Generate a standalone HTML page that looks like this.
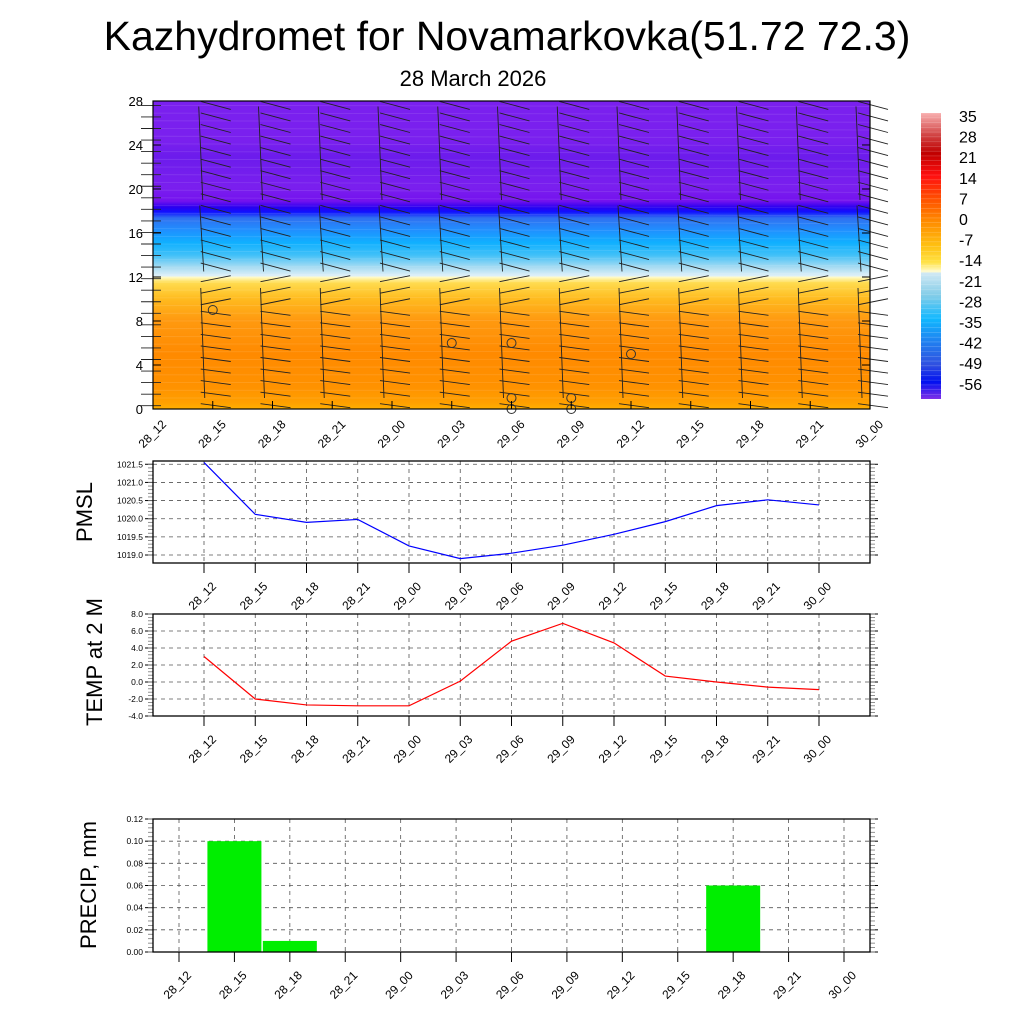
<!DOCTYPE html>
<html><head><meta charset="utf-8">
<style>
html,body{margin:0;padding:0;background:#fff;}
svg{display:block;font-family:"Liberation Sans",sans-serif;}
</style></head>
<body>
<svg id="chart" width="1024" height="1024" viewBox="0 0 1024 1024" xmlns="http://www.w3.org/2000/svg">
<defs>
<linearGradient id="tgrad" x1="0" y1="1" x2="0" y2="0">
<stop offset="0" stop-color="#ffb000"/>
<stop offset="0.02" stop-color="#ffa000"/>
<stop offset="0.07" stop-color="#ff9200"/>
<stop offset="0.18" stop-color="#ff8a00"/>
<stop offset="0.29" stop-color="#ff9a10"/>
<stop offset="0.36" stop-color="#ffbc20"/>
<stop offset="0.41" stop-color="#ffdc50"/>
<stop offset="0.428" stop-color="#fffbc8"/>
<stop offset="0.432" stop-color="#dff0f8"/>
<stop offset="0.46" stop-color="#a8dcf2"/>
<stop offset="0.5" stop-color="#40c0f8"/>
<stop offset="0.54" stop-color="#10b0ff"/>
<stop offset="0.58" stop-color="#2090ff"/>
<stop offset="0.62" stop-color="#3070f0"/>
<stop offset="0.64" stop-color="#1010ff"/>
<stop offset="0.655" stop-color="#2a00f0"/>
<stop offset="0.675" stop-color="#7412ee"/>
<stop offset="0.72" stop-color="#7a1fee"/>
<stop offset="0.82" stop-color="#6c1cec"/>
<stop offset="0.87" stop-color="#7a20ee"/>
<stop offset="1" stop-color="#7a20ee"/>
</linearGradient>
<linearGradient id="cbgrad" x1="0" y1="0" x2="0" y2="1">
<stop offset="0" stop-color="#f8b0b0"/>
<stop offset="0.08" stop-color="#d04040"/>
<stop offset="0.14" stop-color="#c00000"/>
<stop offset="0.22" stop-color="#ff1010"/>
<stop offset="0.3" stop-color="#ff5000"/>
<stop offset="0.38" stop-color="#ff8c00"/>
<stop offset="0.46" stop-color="#ffbe10"/>
<stop offset="0.52" stop-color="#ffe040"/>
<stop offset="0.555" stop-color="#fffbd0"/>
<stop offset="0.56" stop-color="#d0e8f4"/>
<stop offset="0.64" stop-color="#80cce8"/>
<stop offset="0.72" stop-color="#10b8ff"/>
<stop offset="0.8" stop-color="#2080f0"/>
<stop offset="0.88" stop-color="#3050e0"/>
<stop offset="0.94" stop-color="#0010f0"/>
<stop offset="1" stop-color="#8030e8"/>
</linearGradient>
</defs>
<text x="507" y="50" font-size="41" text-anchor="middle">Kazhydromet for Novamarkovka(51.72 72.3)</text>
<text x="473" y="86" font-size="22" text-anchor="middle">28 March 2026</text>
<g id="topPanel"></g>
<g id="cb"></g>
<g id="pmsl"></g>
<g id="temp"></g>
<g id="precip"></g>
</svg>
<script>
const times = ["28_12","28_15","28_18","28_21","29_00","29_03","29_06","29_09","29_12","29_15","29_18","29_21","30_00"];
const pmslValues = [1021.55,1020.12,1019.9,1019.98,1019.25,1018.9,1019.05,1019.27,1019.57,1019.92,1020.36,1020.52,1020.38];
const tempValues = [3.0,-2.0,-2.7,-2.8,-2.8,0.1,4.8,6.9,4.6,0.7,0.0,-0.6,-0.9];
const precipValues = [0,0.1,0.01,0,0,0,0,0,0,0,0.06,0,0];
const heightTicks = [0,4,8,12,16,20,24,28];
const pmslTicks = ["1019.0","1019.5","1020.0","1020.5","1021.0","1021.5"];
const tempTicks = ["-4.0","-2.0","0.0","2.0","4.0","6.0","8.0"];
const precipTicks = ["0.00","0.02","0.04","0.06","0.08","0.10","0.12"];
const cbLabels = ["35","28","21","14","7","0","-7","-14","-21","-28","-35","-42","-49","-56"];
const calmPoints = [[1,9],[5,6],[6,6],[8,5],[6,1],[7,1],[6,0],[7,0]];

const NS="http://www.w3.org/2000/svg";
function mk(parent,tag,attrs,txt){const e=document.createElementNS(NS,tag);for(const k in attrs)e.setAttribute(k,attrs[k]);if(txt!==undefined)e.textContent=txt;parent.appendChild(e);return e;}

const topG=document.getElementById('topPanel');
const TL=153,TR=870,TT=101,TB=409;
const tx=i=>TL+i*(TR-TL)/(times.length-1);
const ty=h=>TB-(h/28)*(TB-TT);
let r=mk(topG,'rect',{x:TL,y:TT,width:TR-TL,height:TB-TT,fill:'url(#tgrad)'});


for(let h=1;h<28;h+=0.7){mk(topG,'line',{x1:TL,x2:TR,y1:ty(h),y2:ty(h)+((h*7)%5-2),stroke:'#fff',"stroke-opacity":0.12,"stroke-width":0.8});}
const barbs=mk(topG,'g',{stroke:'#222',"stroke-width":0.9,fill:'none'});


for(let i=0;i<times.length;i++){
  const x=tx(i);
  for(let h=0.3;h<28;h+=1.05){
    const y=ty(h);
    let dx=30,dy=h>12?8:(h>9?-6:4);
    if(i===0){dx=20;dy=0;}
    mk(barbs,'line',{x1:x-12,y1:y-dy/2,x2:x-12+dx,y2:y+dy/2});
  }
  if(i>0){
    mk(barbs,'line',{x1:x-14,y1:ty(27.5),x2:x-10,y2:ty(19)});
    mk(barbs,'line',{x1:x-13,y1:ty(18.5),x2:x-9,y2:ty(12.5)});
    mk(barbs,'line',{x1:x-12,y1:ty(11),x2:x-8,y2:ty(1)});
  }
}
for(const p of calmPoints){const c=mk(topG,'circle',{cx:tx(p[0]),cy:ty(p[1]),r:4.5,fill:'none',stroke:'#333',"stroke-width":1});}
mk(topG,'rect',{x:TL,y:TT,width:TR-TL,height:TB-TT,fill:'none',stroke:'#000',"stroke-width":1.2});
for(const h of heightTicks){
  const t=mk(topG,'text',{x:TL-10,y:ty(h)+5,"font-size":13,"text-anchor":"end"},String(h));
  
  mk(topG,'line',{x1:TL,x2:TL+8,y1:ty(h),y2:ty(h),stroke:'#000'});
  mk(topG,'line',{x1:TR,x2:TR-8,y1:ty(h),y2:ty(h),stroke:'#000'});
}
times.forEach((s,i)=>{
  const x=tx(i);
  mk(topG,'line',{x1:x,x2:x,y1:TB,y2:TB-8,stroke:'#000'});
  const t=mk(topG,'text',{transform:`translate(${x+14},${TB+16}) rotate(-45)`,"font-size":12,"text-anchor":"end"},s);
  
});

const cb=document.getElementById('cb');
mk(cb,'rect',{x:921,y:113,width:20,height:286,fill:'url(#cbgrad)'});
for(let k=0;k<60;k++)mk(cb,'line',{x1:921,x2:941,y1:113+k*4.77,y2:113+k*4.77,stroke:'#fff',"stroke-opacity":0.25,"stroke-width":0.6});
cbLabels.forEach((s,k)=>{const t=mk(cb,'text',{x:959,y:122+k*20.6,"font-size":16},s);});

function panel(g,o){
  const {L,R,T,B,vmin,vmax,ticks,x0,x1,title,titleX,titleY}=o;
  const xs=i=>x0+i*(x1-x0)/(times.length-1);
  const ys=v=>B-(v-vmin)/(vmax-vmin)*(B-T);
  ticks.forEach(s=>{const v=parseFloat(s);const y=ys(v);
    mk(g,'line',{x1:L,x2:R,y1:y,y2:y,stroke:'#555',"stroke-width":0.8,"stroke-dasharray":"4,4"});
    mk(g,'line',{x1:L-8,x2:L,y1:y,y2:y,stroke:'#000'});
    mk(g,'line',{x1:R,x2:R+8,y1:y,y2:y,stroke:'#000'});
    const t=mk(g,'text',{x:L-10,y:y+3,"font-size":8.5,"text-anchor":"end"},s);
    
  });
  const step=(parseFloat(ticks[1])-parseFloat(ticks[0]))/5;
  for(let v=parseFloat(ticks[0]);v<=vmax+1e-9;v+=step){const y=ys(v);if(y<T-0.5||y>B+0.5)continue;
    mk(g,'line',{x1:L-5,x2:L,y1:y,y2:y,stroke:'#777',"stroke-width":0.8});
    mk(g,'line',{x1:R,x2:R+5,y1:y,y2:y,stroke:'#777',"stroke-width":0.8});}
  times.forEach((s,i)=>{const x=xs(i);
    mk(g,'line',{x1:x,x2:x,y1:T,y2:B,stroke:'#555',"stroke-width":0.8,"stroke-dasharray":"4,4"});
    mk(g,'line',{x1:x,x2:x,y1:B,y2:B+10,stroke:'#000'});
    const t=mk(g,'text',{transform:`translate(${x+13},${B+24}) rotate(-45)`,"font-size":12,"text-anchor":"end"},s);
    
  });
  const at=mk(g,'text',{transform:`translate(${titleX},${titleY}) rotate(-90)`,"font-size":22,"text-anchor":"middle"},title);
  
  return {xs,ys};
}
function frame(g,o){mk(g,'rect',{x:o.L,y:o.T,width:o.R-o.L,height:o.B-o.T,fill:'none',stroke:'#000',"stroke-width":1.3});}

const pg=document.getElementById('pmsl');
const po={L:153,R:870,T:461,B:563,vmin:1018.78,vmax:1021.59,ticks:pmslTicks,x0:204,x1:819,title:'PMSL',titleX:92,titleY:512};
const pa=panel(pg,po);
const pl=mk(pg,'polyline',{points:pmslValues.map((v,i)=>pa.xs(i)+','+pa.ys(v)).join(' '),fill:'none',stroke:'#0000ff',"stroke-width":1.2});

frame(pg,po);

const tg=document.getElementById('temp');
const to={L:153,R:870,T:614,B:716,vmin:-4,vmax:8,ticks:tempTicks,x0:204,x1:819,title:'TEMP at 2 M',titleX:102,titleY:662};
const ta=panel(tg,to);
const tl=mk(tg,'polyline',{points:tempValues.map((v,i)=>ta.xs(i)+','+ta.ys(v)).join(' '),fill:'none',stroke:'#ff0000',"stroke-width":1.2});

frame(tg,to);

const rg=document.getElementById('precip');
const ro={L:153,R:870,T:819,B:952,vmin:0,vmax:0.12,ticks:precipTicks,x0:179,x1:844,title:'PRECIP, mm',titleX:96,titleY:885};
const ra=panel(rg,ro);
precipValues.forEach((v,i)=>{if(v<=0)return;const x=ra.xs(i);const y=ra.ys(v);
  const b=mk(rg,'rect',{x:x-27,y:y,width:54,height:ro.B-y,fill:'#00ee00'});
  });
frame(rg,ro);
</script>
</body></html>
